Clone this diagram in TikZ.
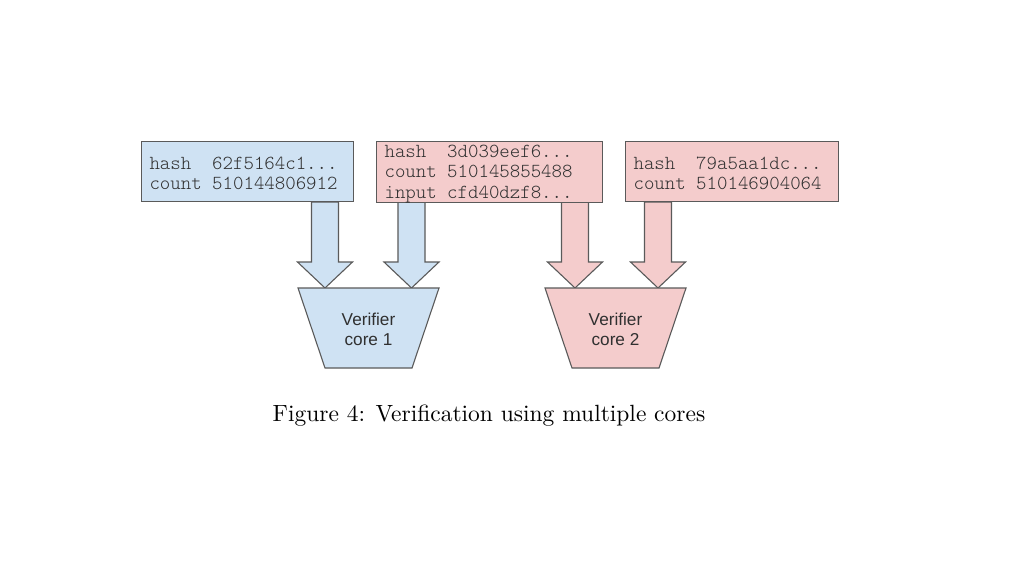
\documentclass[tikz,border=0pt]{standalone}
\usepackage{fontspec}
\usepackage{graphicx}
\usetikzlibrary{calc}
\newfontfamily\sansf{Liberation Sans}
\newfontfamily\monolt{Latin Modern Mono Light}
\definecolor{bluef}{HTML}{CFE2F3}
\definecolor{pinkf}{HTML}{F4CCCC}
\definecolor{edgec}{HTML}{5A5A5A}
\definecolor{txtc}{HTML}{303030}
\newcommand\msp{\hspace*{0.525em}}
\newcommand\blockarrow[3]{%
  \draw[barrow, fill=#1] let \p1=(#2.south), \p2=(#3) in
    (\x2-13.5pt,\y1) -- (\x2-13.5pt,\y2+26pt) -- (\x2-27.5pt,\y2+26pt) -- (\p2)
    -- (\x2+27.5pt,\y2+26pt) -- (\x2+13.5pt,\y2+26pt) -- (\x2+13.5pt,\y1) -- cycle;}
\begin{document}
\begin{tikzpicture}[x=1pt,y=-1pt,
  infobox/.style={draw=edgec, line width=1.1pt, anchor=north west, inner xsep=8pt,
    inner ysep=0pt, minimum height=60pt, align=left,
    font=\monolt\fontsize{19.9}{20.3}\selectfont, text=txtc},
  barrow/.style={draw=edgec, line width=1.1pt, line join=miter},
  core/.style={draw=edgec, line width=1.1pt, line join=miter},
  coretext/.style={align=center, font=\sansf\fontsize{17.2}{20}\selectfont, text=txtc, inner sep=0pt}]
\useasboundingbox (0,0) rectangle (1024,576);
\fill[white] (0,0) rectangle (1024,576);
% tips of block arrows on the cores
\coordinate (tip1) at (325,288);
\coordinate (tip2) at (411.5,288);
\coordinate (tip3) at (575,288);
\coordinate (tip4) at (658,288);
% box outlines used as arrow sources
\node[infobox, draw=none, text width=196pt] (b1) at (141,141) {\phantom{x}};
\node[infobox, draw=none, text width=210pt] (b2) at (376,141) {\phantom{x}};
\node[infobox, draw=none, text width=197pt] (b3) at (625,141) {\phantom{x}};
% arrows
\blockarrow{bluef}{b1}{tip1}
\blockarrow{bluef}{b2}{tip2}
\blockarrow{pinkf}{b2}{tip3}
\blockarrow{pinkf}{b3}{tip4}
% boxes with text
\node[infobox, fill=bluef, text width=196pt] (h1) at (141,141) {\rule{0pt}{16pt}hash\msp\msp 62f5164c1...\\count\msp 510144806912};
\node[infobox, fill=pinkf, text width=210pt] (h2) at (376,141) {\rule{0pt}{16pt}hash\msp\msp 3d039eef6...\\count\msp 510145855488\\input\msp cfd40dzf8...};
\node[infobox, fill=pinkf, text width=197pt] (h3) at (625,141) {\rule{0pt}{16pt}hash\msp\msp 79a5aa1dc...\\count\msp 510146904064};
% cores
\draw[core, fill=bluef] (298,288) -- (439,288) -- (412,368) -- (325,368) -- cycle;
\node[coretext] (v1) at (368.5,329.5) {Verifier\\core 1};
\draw[core, fill=pinkf] (545,288) -- (686,288) -- (659,368) -- (572,368) -- cycle;
\node[coretext] (v2) at (615.5,329.5) {Verifier\\core 2};
% caption
\node[anchor=base, inner sep=0pt] (cap) at (489,421) {\scalebox{2.348}{Figure 4: Verification using multiple cores}};
\end{tikzpicture}
\end{document}
